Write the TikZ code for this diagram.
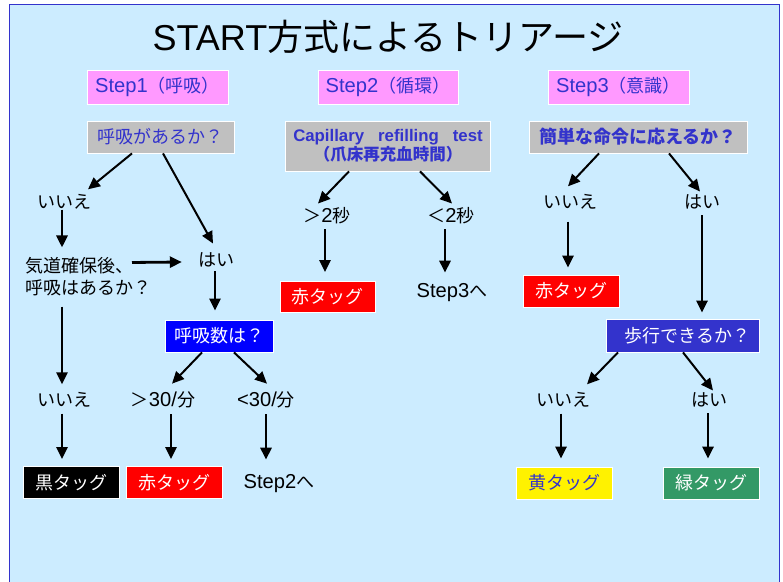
\documentclass[tikz,border=0pt]{standalone}
\usepackage{fontspec}
\setmainfont{Liberation Sans}[Scale=1.12]
\newfontfamily\titlelat{Liberation Sans}
\newfontfamily\jp{Noto Sans CJK JP}
\usetikzlibrary{arrows.meta,calc}
\definecolor{bgblue}{HTML}{CCECFF}
\definecolor{frameblue}{HTML}{3333CC}
\definecolor{txtblue}{HTML}{3333CC}
\definecolor{pinkbox}{HTML}{FF99FF}
\definecolor{graybox}{HTML}{C0C0C0}
\definecolor{greenbox}{HTML}{339966}
\tikzset{
  box/.style={draw=white, line width=0.8pt, inner sep=0pt, font={\fontsize{18}{21}\selectfont}},
  stepbox/.style={box, fill=pinkbox, text=txtblue, minimum width=141pt, minimum height=34pt},
  qbox/.style={box, fill=graybox, text=txtblue},
  tagbox/.style={box, minimum width=96pt, minimum height=32pt},
  lbl/.style={inner sep=0pt, font={\fontsize{18}{22}\selectfont}},
  thick arrow/.style={line width=2.8pt, -{Triangle[length=12pt,width=11pt]}},
  thin arrow/.style={line width=2pt, -{Triangle[length=12pt,width=11pt]}},
}
\begin{document}
\begin{tikzpicture}[x=1pt,y=-1pt]
\useasboundingbox (0,0) rectangle (783,581);
\fill[white] (0,0) rectangle (783,581);
\filldraw[fill=bgblue, draw=frameblue, line width=1.5pt] (9.5,4.5) rectangle (779.5,600);

% title
\node[inner sep=0pt, font={\fontsize{36}{40}\selectfont}] (title) at (388,37) {{\titlelat START}{\jp 方式によるトリアージ}};

% step headers
\node[stepbox] (s1) at (157.5,87) {Step1{\jp （呼吸）}};
\node[stepbox, minimum width=140pt] (s2) at (388,87) {Step2{\jp （循環）}};
\node[stepbox] (s3) at (618.5,87) {Step3{\jp （意識）}};

% questions
\node[qbox, minimum width=147pt, minimum height=32pt] (q1) at (160.5,137) {\jp 呼吸があるか？};
\node[qbox, minimum width=205pt, minimum height=50pt, align=center, font={\fontsize{15}{19}\selectfont\bfseries}] (q2) at (388,146)
  {Capillary\hspace{14pt}refilling\hspace{14pt}test\\{\jp\bfseries\fontsize{16.5}{19}\selectfont （爪床再充血時間）}};
\node[qbox, minimum width=218pt, minimum height=32pt, font={\fontsize{18}{21}\selectfont\bfseries}] (q3) at (638,137) {\jp\bfseries 簡単な命令に応えるか？};

% step1 column
\node[lbl] (l1no) at (64,202) {\jp いいえ};
\node[lbl, anchor=west, align=left] (air) at (25,277) {\jp 気道確保後、\\\jp 呼吸はあるか？};
\node[lbl] (l1yes) at (216,260) {\jp はい};
\node[box, fill=blue, text=white, minimum width=108pt, minimum height=32pt] (q4) at (219,336) {\jp 呼吸数は？};
\node[lbl] (l1no2) at (64,400) {\jp いいえ};
\node[lbl] (gt30) at (163,400) {{\jp ＞}30/{\jp 分}};
\node[lbl] (lt30) at (266,400) {<30/{\jp 分}};
\node[tagbox, fill=black, text=white] (black) at (71,482.5) {\jp 黒タッグ};
\node[tagbox, fill=red, text=white] (red1) at (174,482.5) {\jp 赤タッグ};
\node[lbl] (step2to) at (279,484) {Step2{\jp へ}};

% step2 column
\node[lbl] (gt2) at (327,216) {{\jp ＞}2{\jp 秒}};
\node[lbl] (lt2) at (451,216) {{\jp ＜}2{\jp 秒}};
\node[tagbox, fill=red, text=white, minimum width=95pt, minimum height=31pt] (red2) at (327.5,297) {\jp 赤タッグ};
\node[lbl] (step3to) at (452,293) {Step3{\jp へ}};

% step3 column
\node[lbl] (s3no) at (570,202) {\jp いいえ};
\node[lbl] (s3yes) at (702,202) {\jp はい};
\node[tagbox, fill=red, text=white] (red3) at (571,291) {\jp 赤タッグ};
\node[box, fill=frameblue, text=white, minimum width=153pt, minimum height=33pt, text width=135pt, align=right] (walk) at (682.5,335.5) {\jp 歩行できるか？};
\node[lbl] (s3no2) at (563,400) {\jp いいえ};
\node[lbl] (s3yes2) at (709,400) {\jp はい};
\node[tagbox, fill=yellow, text=txtblue] (yellow) at (564,483) {\jp 黄タッグ};
\node[tagbox, fill=greenbox, text=white] (green) at (711,483) {\jp 緑タッグ};

% connectors step1
\draw[thin arrow] ($(q1.south)+(-28.5,0)$) -- ($(l1no.north)+(24,-5)$);
\draw[thin arrow] ($(q1.south)+(2.5,0)$) -- ($(l1yes.north)+(-3,-9)$);
\draw[thick arrow] ($(l1no.south)+(-2,0)$) -- ($(air.north west)+(37,-10)$);
\draw[thick arrow] ($(air.north west)+(107,5)$) -- ($(l1yes.west)+(-16,2)$);
\draw[thick arrow] ($(l1yes.south)+(-1,4)$) -- ($(q4.north)+(-4,-9)$);
\draw[thick arrow] ($(air.south west)+(37,10)$) -- ($(l1no2.north)+(-2,-8)$);
\draw[thin arrow] ($(q4.south)+(-17,0)$) -- ($(gt30.north)+(9,-8)$);
\draw[thin arrow] ($(q4.south)+(15,0)$) -- ($(lt30.north)+(1,-8)$);
\draw[thick arrow] ($(l1no2.south)+(-2,6)$) -- ($(black.north)+(-9,-7)$);
\draw[thick arrow] ($(gt30.south)+(8,6)$) -- ($(red1.north)+(-3,-7)$);
\draw[thick arrow] ($(lt30.south)+(0,6)$) -- ($(step2to.north)+(-13,-15)$);

% connectors step2
\draw[thin arrow] ($(q2.south)+(-39,0)$) -- ($(gt2.north)+(-9,-4)$);
\draw[thin arrow] ($(q2.south)+(32,0)$) -- ($(lt2.north)+(1,-4)$);
\draw[thick arrow] ($(gt2.south)+(-2,5)$) -- ($(red2.north)+(-2.5,-9)$);
\draw[thick arrow] ($(lt2.south)+(-6,5)$) -- ($(step3to.north)+(-7,-11)$);

% connectors step3
\draw[thin arrow] ($(q3.south)+(-39,0)$) -- ($(s3no.north)+(-2,-8)$);
\draw[thin arrow] ($(q3.south)+(31,0)$) -- ($(s3yes.north)+(-2,-3)$);
\draw[thick arrow] ($(s3no.south)+(-2,12)$) -- ($(red3.north)+(-3,-7)$);
\draw[thick arrow] ($(s3yes.south)+(0,6)$) -- ($(walk.north)+(19.5,-6)$);
\draw[thin arrow] ($(walk.south)+(-64.5,0)$) -- ($(s3no2.north)+(24,-8)$);
\draw[thin arrow] ($(walk.south)+(0.5,0)$) -- ($(s3yes2.north)+(4,-2)$);
\draw[thick arrow] ($(s3no2.south)+(-2,6)$) -- ($(yellow.north)+(-3,-8)$);
\draw[thick arrow] ($(s3yes2.south)+(-1,6)$) -- ($(green.north)+(-3,-8)$);
\end{tikzpicture}
\end{document}
